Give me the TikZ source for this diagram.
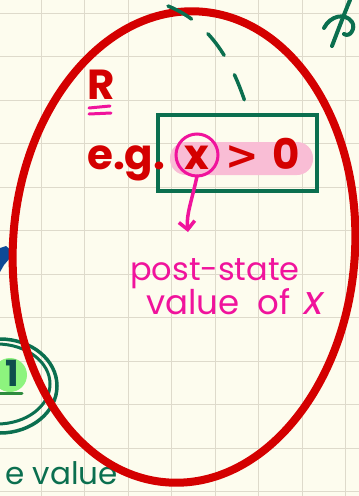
\documentclass[tikz,border=0pt]{standalone}
\usepackage{fontspec}
\setmainfont{Poppins}
\newfontfamily\symfont{DejaVu Sans}
\usetikzlibrary{arrows.meta}
\definecolor{paper}{HTML}{FDFCEE}
\definecolor{gridc}{HTML}{DEDACB}
\definecolor{redink}{HTML}{D40000}
\definecolor{greenink}{HTML}{0B6F4F}
\definecolor{pinkink}{HTML}{F0139C}
\definecolor{hl}{HTML}{F9BDD5}
\definecolor{blueink}{HTML}{0D4A96}
\definecolor{lightgreen}{HTML}{8DF47E}
\definecolor{darkteal}{HTML}{0E4F4C}
\tikzset{
  redtext/.style={text=redink, font=\bfseries\fontsize{42}{42}\selectfont, inner sep=0pt},
  handpink/.style={text=pinkink, font=\fontsize{32}{32}\selectfont, inner sep=0pt},
  handgreen/.style={text=greenink, font=\fontsize{31}{31}\selectfont, inner sep=0pt},
  ink/.style={line cap=round, line join=round},
}
\begin{document}
\begin{tikzpicture}[x=1pt,y=-1pt]
\fill[paper] (0,0) rectangle (359,496);
\useasboundingbox (0,0) rectangle (359,496);
% grid
\foreach \x in {41,84.5,...,350} \draw[gridc, line width=1] (\x,0) -- (\x,496);
\foreach \y in {13,56.5,...,495} \draw[gridc, line width=1] (0,\y) -- (359,\y);

% highlight
\fill[hl, rounded corners=16] (170,142) rectangle (313,175);

% left side fragments
\fill[blueink] (0,248) -- (6,246) -- (12,251) -- (10,258) -- (4,265) -- (0,272) -- cycle;
\fill[lightgreen] (10,375) circle [radius=17];
\node[text=darkteal, font=\bfseries\fontsize{36}{36}\selectfont, inner sep=0pt] (one) at (12,373) {1};
\draw[greenink!80!lime, line width=3, ink] (0,393) -- (22,393);
\draw[greenink, line width=3.5] (0,386) ellipse [x radius=57, y radius=47];
\draw[greenink, line width=3] (-3,384) ellipse [x radius=53, y radius=40];
\node[handgreen, anchor=base east] (val) at (118,484) {e value};

% top right scribble
\draw[greenink, line width=4, ink] (332,46) .. controls (340,25) and (345,12) .. (350,0);
\draw[greenink, line width=4, ink] (324,28) .. controls (330,16) and (345,12) .. (352,22) .. controls (356,28) and (350,38) .. (344,34);

% red ellipse
\draw[redink, line width=8] (184,247) ellipse [x radius=171, y radius=236, rotate=-4];
\coordinate (etop) at (168,6);

% green box
\node[draw=greenink, line width=3.5, minimum width=159pt, minimum height=76pt, inner sep=0pt] (box) at (237.5,153) {};
\coordinate (btop) at (247,108);
\draw[greenink, line width=3.5, ink, dash pattern=on 27pt off 22pt] (etop) .. controls (215,25) and (235,70) .. (btop);

% text
\node[redtext, anchor=base west] (R) at (87,99) {R};
\draw[pinkink, line width=3, ink] (89,108) -- (110,106);
\draw[pinkink, line width=3, ink] (89,114) -- (111,113);
\node[redtext, anchor=base west] (eg) at (87,169) {e.g.};
\node[redtext, anchor=base] (xv) at (197,169) {x};
\draw[pinkink, line width=3] (197,155) circle [radius=21];
\node[circle, minimum size=42pt, inner sep=0pt] (xc) at (197,155) {};
\node[redtext, font=\symfont\bfseries\fontsize{40}{40}\selectfont, anchor=base] (gt) at (242,169) {>};
\node[redtext, anchor=base] (zero) at (286,169) {0};

% post state label
\node[handpink, anchor=base west] (post) at (130,280) {post-state};
\node[handpink, font=\fontsize{34}{34}\selectfont, anchor=base west] (valx) at (146,314) {value\hspace{18pt}of\hspace{14pt}{\fontsize{40}{40}\selectfont\itshape x}};
\draw[pinkink, line width=3.5, ink, -{Straight Barb[length=8pt,width=16pt]}] (xc.south) .. controls (192,200) and (186,215) .. (188,232);
\end{tikzpicture}
\end{document}
